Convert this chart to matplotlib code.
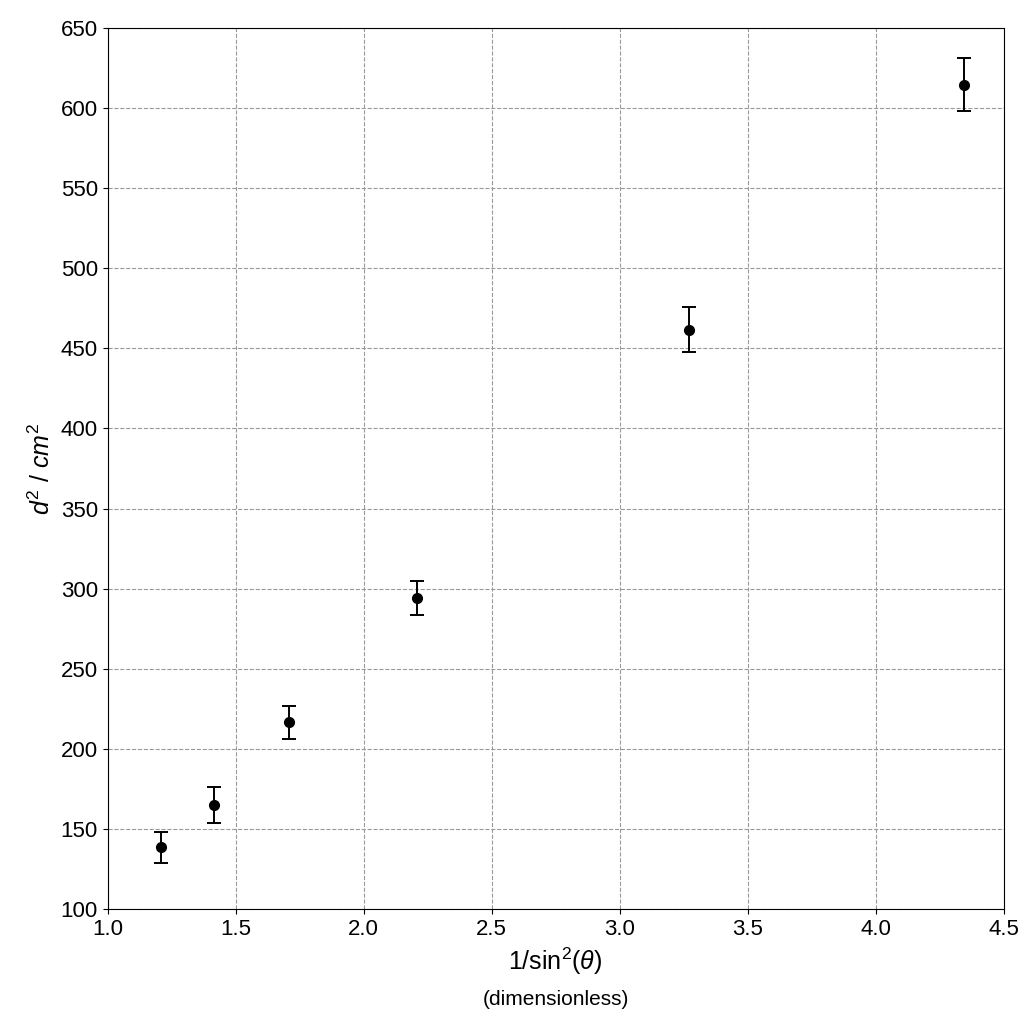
import matplotlib
matplotlib.use("Agg")
import matplotlib.pyplot as plt

plt.rcParams['font.family'] = ['Liberation Sans', 'DejaVu Sans']
plt.rcParams['mathtext.fontset'] = 'custom'
plt.rcParams['mathtext.rm'] = 'Liberation Sans'
plt.rcParams['mathtext.it'] = 'Liberation Sans:italic'

x = [1.207, 1.414, 1.707, 2.21, 3.27, 4.344]
y = [138.7, 165.0, 216.7, 294.0, 461.5, 614.5]
yerr = [9.5, 11.0, 10.3, 10.6, 14.0, 16.7]

fig = plt.figure(figsize=(10.24, 10.24), dpi=100)
ax = fig.add_axes([0.105, 0.112, 0.875, 0.861])
ax.errorbar(x, y, yerr=yerr, fmt='o', color='black', ms=7, capsize=5, elinewidth=1.4, capthick=1.4)
ax.set_xlim(1.0, 4.5)
ax.set_ylim(100, 650)
ax.set_xticks([1.0, 1.5, 2.0, 2.5, 3.0, 3.5, 4.0, 4.5])
ax.set_yticks(range(100, 651, 50))
ax.grid(True, linestyle='--', color='#999999', linewidth=0.8)
ax.tick_params(labelsize=16)
ax.set_xlabel(r'1/sin$^2$($\theta$)', fontsize=18, labelpad=4)
fig.text(0.5425, 0.019, '(dimensionless)', ha='center', fontsize=15)
ax.set_ylabel(r'$d^2$ / $cm^2$', fontsize=18)
fig.savefig('out.png', dpi=100)
